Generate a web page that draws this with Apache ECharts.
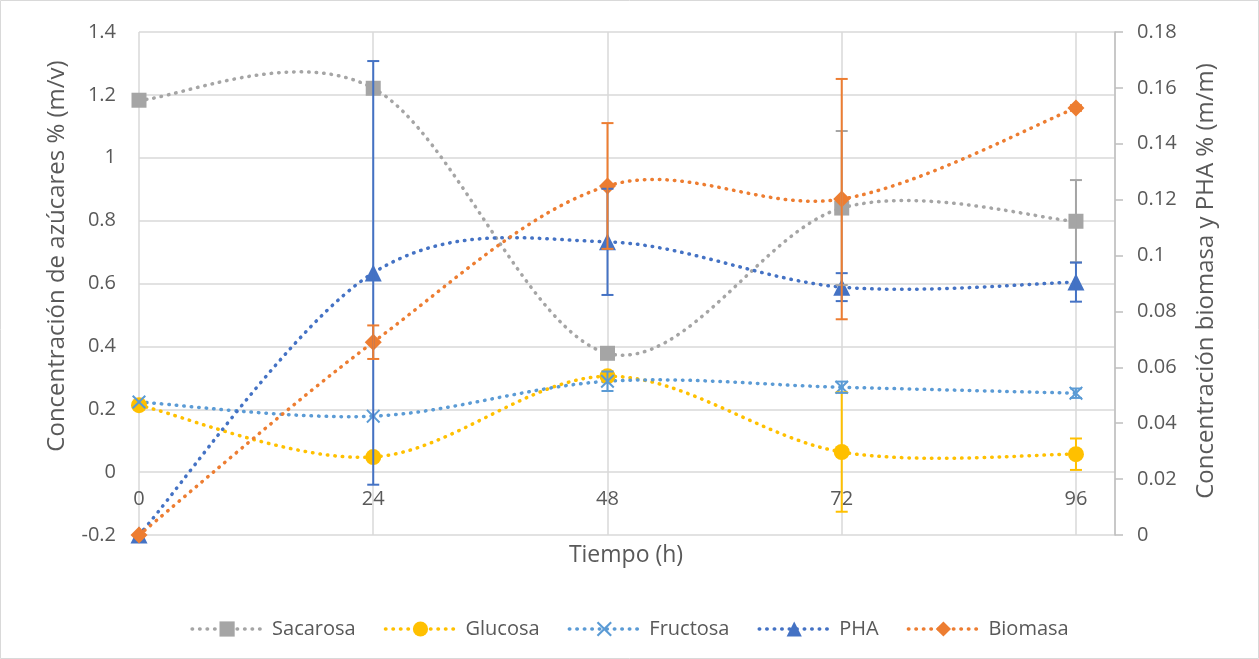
<!DOCTYPE html>
<html>
<head>
<meta charset="utf-8">
<script src="https://cdn.jsdelivr.net/npm/echarts@6/dist/echarts.min.js"></script>
<style>html,body{margin:0;padding:0;background:#fff}#c{width:1259px;height:659px}</style>
</head>
<body>
<div id="c"></div>
<script>
// ---- data ----
const xValues = [0, 24, 48, 72, 96];
const sacarosa = [1.183, 1.221, 0.378, 0.840, 0.798];
const sacarosaErr = [0, 0, 0, 0.245, 0.131];
const glucosa = [0.213, 0.048, 0.305, 0.064, 0.057];
const glucosaErr = [0, 0, 0, 0.19, 0.05];
const fructosa = [0.223, 0.178, 0.289, 0.270, 0.251];
const fructosaErr = [0, 0, 0.031, 0.018, 0.015];
const pha = [0, 0.0938, 0.1049, 0.0887, 0.0905];
const phaErr = [0, 0.0758, 0.019, 0.005, 0.007];
const biomasa = [0, 0.069, 0.1249, 0.1202, 0.1528];
const biomasaErr = [0, 0.006, 0.0225, 0.043, 0.001];
const leftTicks = [-0.2, 0, 0.2, 0.4, 0.6, 0.8, 1, 1.2, 1.4];
const rightTicks = [0, 0.02, 0.04, 0.06, 0.08, 0.1, 0.12, 0.14, 0.16, 0.18];

const FONT = 'Open Sans';
const TXT = '#595959';
const GRID = '#D9D9D9';
const X_PATH = 'path://M2,0L10,8L18,0L20,2L12,10L20,18L18,20L10,12L2,20L0,18L8,10L0,2Z';
const DOT = [0.5, 7];

function pts(ys) { return xValues.map((x, i) => [x, ys[i]]); }
function errData(ys, es) {
  const out = [];
  xValues.forEach((x, i) => { if (es[i] > 0) out.push([x, ys[i] - es[i], ys[i] + es[i]]); });
  return out;
}
// markers (line itself drawn by the smoothed custom series below)
function markerSeries(name, ys, color, symbol, size, yAxisIndex) {
  return {
    name, type: 'line', data: pts(ys), yAxisIndex,
    symbol, symbolSize: size,
    itemStyle: { color },
    lineStyle: { color, width: 3.5, type: DOT, cap: 'round', opacity: 0 },
    z: 3
  };
}
// Excel-like smoothed curve (Catmull-Rom through the data points, via axis coords)
function curveSeries(ys, color, yAxisIndex) {
  return {
    type: 'custom', yAxisIndex, data: [[xValues[0], ys[0]]], z: 2, silent: true,
    renderItem: function (params, api) {
      const P = xValues.map((x, i) => api.coord([x, ys[i]]));
      const n = P.length, children = [];
      for (let i = 0; i < n - 1; i++) {
        const p0 = P[Math.max(i - 1, 0)], p1 = P[i], p2 = P[i + 1], p3 = P[Math.min(i + 2, n - 1)];
        children.push({
          type: 'bezierCurve',
          shape: {
            x1: p1[0], y1: p1[1], x2: p2[0], y2: p2[1],
            cpx1: p1[0] + (p2[0] - p0[0]) / 6, cpy1: p1[1] + (p2[1] - p0[1]) / 6,
            cpx2: p2[0] - (p3[0] - p1[0]) / 6, cpy2: p2[1] - (p3[1] - p1[1]) / 6
          },
          style: { fill: null, stroke: color, lineWidth: 3.5, lineDash: DOT, lineCap: 'round' }
        });
      }
      return { type: 'group', children };
    }
  };
}
function errSeries(ys, es, color, yAxisIndex) {
  return {
    type: 'custom', yAxisIndex, data: errData(ys, es), z: 4, silent: true,
    renderItem: function (params, api) {
      const x = api.value(0);
      const lo = api.coord([x, api.value(1)]);
      const hi = api.coord([x, api.value(2)]);
      const w = 6;
      const st = { stroke: color, lineWidth: 2 };
      return {
        type: 'group', children: [
          { type: 'line', shape: { x1: lo[0], y1: lo[1], x2: hi[0], y2: hi[1] }, style: st },
          { type: 'line', shape: { x1: lo[0] - w, y1: lo[1], x2: lo[0] + w, y2: lo[1] }, style: st },
          { type: 'line', shape: { x1: hi[0] - w, y1: hi[1], x2: hi[0] + w, y2: hi[1] }, style: st }
        ]
      };
    }
  };
}

const chart = echarts.init(document.getElementById('c'));
chart.setOption({
  animation: false,
  backgroundColor: '#fff',
  textStyle: { fontFamily: FONT, color: TXT },
  grid: { left: 139, right: 144, top: 32, bottom: 124, containLabel: false },
  xAxis: {
    type: 'value', min: 0, max: 100, interval: 24,
    axisLine: { show: false, onZero: false },
    axisTick: { show: false },
    axisLabel: { fontFamily: FONT, fontSize: 20, color: TXT, margin: -46, showMaxLabel: false,
      formatter: v => (xValues.indexOf(v) >= 0 ? String(v) : '') },
    splitLine: { show: true, lineStyle: { color: GRID, width: 1.5 } }
  },
  yAxis: [
    {
      type: 'value', min: leftTicks[0], max: leftTicks[leftTicks.length - 1], interval: 0.2,
      axisLine: { show: false }, axisTick: { show: false },
      axisLabel: { fontFamily: FONT, fontSize: 20, color: TXT, margin: 23,
        formatter: v => String(Math.round(v * 10) / 10) },
      splitLine: { show: true, lineStyle: { color: GRID, width: 1.5 } }
    },
    {
      type: 'value', min: rightTicks[0], max: rightTicks[rightTicks.length - 1], interval: 0.02,
      position: 'right',
      axisLine: { show: true, lineStyle: { color: '#BFBFBF', width: 1.5 } },
      axisTick: { show: true, length: 8, inside: false, lineStyle: { color: '#BFBFBF', width: 1.5 } },
      axisLabel: { fontFamily: FONT, fontSize: 20, color: TXT, margin: 22,
        formatter: v => String(Math.round(v * 100) / 100) },
      splitLine: { show: false }
    }
  ],
  legend: {
    bottom: 15, left: 'center', itemWidth: 70, itemHeight: 19, itemGap: 28,
    lineStyle: { opacity: 1, width: 3.5, type: DOT, cap: 'round' },
    textStyle: { fontFamily: FONT, fontSize: 20, color: TXT, padding: [0, 0, 0, 5] },
    data: ['Sacarosa', 'Glucosa', 'Fructosa', 'PHA', 'Biomasa']
  },
  graphic: [
    { type: 'rect', shape: { x: 0.5, y: 0.5, width: 1258, height: 658 }, style: { fill: 'none', stroke: '#D9D9D9', lineWidth: 1 }, silent: true },
    { type: 'text', x: 57, y: 256, rotation: Math.PI / 2,
      style: { text: 'Concentración de azúcares % (m/v)', font: '24px "Open Sans"', fill: TXT, align: 'center', verticalAlign: 'middle' } },
    { type: 'text', x: 1206, y: 281, rotation: Math.PI / 2,
      style: { text: 'Concentración biomasa y PHA % (m/m)', font: '24px "Open Sans"', fill: TXT, align: 'center', verticalAlign: 'middle' } },
    { type: 'text', x: 626, y: 555,
      style: { text: 'Tiempo (h)', font: '23px "Open Sans"', fill: TXT, align: 'center', verticalAlign: 'middle' } }
  ],
  series: [
    curveSeries(sacarosa, '#A5A5A5', 0),
    markerSeries('Sacarosa', sacarosa, '#A5A5A5', 'rect', 15, 0),
    errSeries(sacarosa, sacarosaErr, '#A5A5A5', 0),
    curveSeries(glucosa, '#FFC000', 0),
    markerSeries('Glucosa', glucosa, '#FFC000', 'circle', 16, 0),
    errSeries(glucosa, glucosaErr, '#FFC000', 0),
    curveSeries(fructosa, '#5B9BD5', 0),
    markerSeries('Fructosa', fructosa, '#5B9BD5', X_PATH, 14, 0),
    errSeries(fructosa, fructosaErr, '#5B9BD5', 0),
    curveSeries(pha, '#4472C4', 1),
    markerSeries('PHA', pha, '#4472C4', 'triangle', 17, 1),
    errSeries(pha, phaErr, '#4472C4', 1),
    curveSeries(biomasa, '#ED7D31', 1),
    markerSeries('Biomasa', biomasa, '#ED7D31', 'diamond', 17, 1),
    errSeries(biomasa, biomasaErr, '#ED7D31', 1)
  ]
});
</script>
</body>
</html>
